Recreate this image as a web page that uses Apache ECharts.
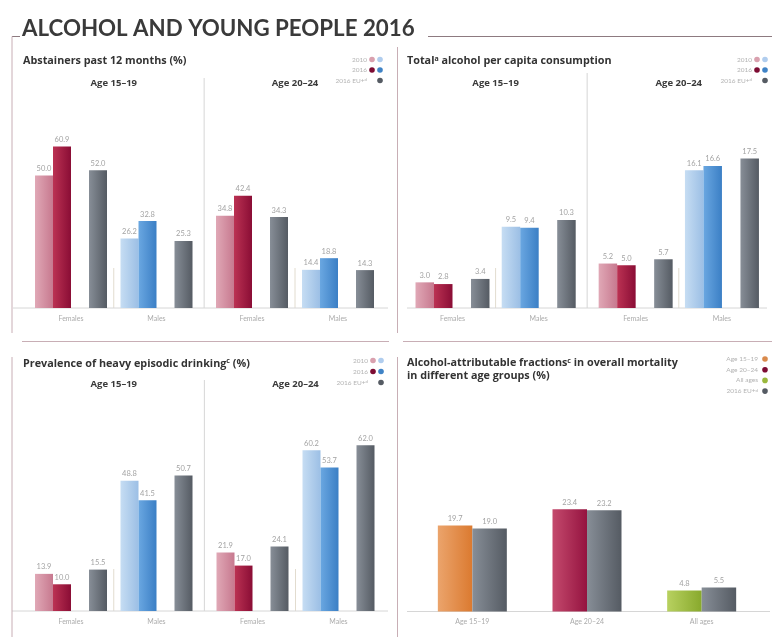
<!DOCTYPE html>
<html><head><meta charset="utf-8">
<script src="https://cdn.jsdelivr.net/npm/echarts@6/dist/echarts.min.js"></script>
<style>html,body{margin:0;padding:0;background:#fff}#c{width:772px;height:637px}</style>
</head><body><div id="c"></div>
<script>
// ---------- DATA ----------
const sexes = ['Females', 'Males'];
const ageGroups = ['Age 15–19', 'Age 20–24'];
// [age group][sex]
const abstainers2010 = [[50.0, 26.2], [34.8, 14.4]];
const abstainers2016 = [[60.9, 32.8], [42.4, 18.8]];
const abstainersEU   = [[52.0, 25.3], [34.3, 14.3]];
const consumption2010 = [[3.0, 9.5], [5.2, 16.1]];
const consumption2016 = [[2.8, 9.4], [5.0, 16.6]];
const consumptionEU   = [[3.4, 10.3], [5.7, 17.5]];
const heavy2010 = [[13.9, 48.8], [21.9, 60.2]];
const heavy2016 = [[10.0, 41.5], [17.0, 53.7]];
const heavyEU   = [[15.5, 50.7], [24.1, 62.0]];
const afCategories = ['Age 15–19', 'Age 20–24', 'All ages'];
const afGroup = [19.7, 23.4, 4.8];
const afEU    = [19.0, 23.2, 5.5];

// ---------- STYLE ----------
const FONT = 'Lato, "Open Sans", sans-serif';
const TFONT = '"Open Sans", Lato, sans-serif';
function grad(a, b) {
  return new echarts.graphic.LinearGradient(0, 0, 1, 0, [{offset: 0, color: a}, {offset: 1, color: b}]);
}
const C = {
  f2010: ['#e0a8b6', '#c7798f'], f2016: ['#bb3253', '#8a0d35'],
  m2010: ['#c6ddf3', '#9cbfe5'], m2016: ['#6aa7e1', '#3b7fc5'],
  eu: ['#878e97', '#555b63'],
  orange: ['#eba46c', '#db7a30'], crimson: ['#c44a6d', '#951340'], green: ['#b8d160', '#88a92c']
};
const DOT = {f2010: '#d9a0ae', m2010: '#b0cdee', f2016: '#7d0c33', m2016: '#3f83c6', eu: '#555b63',
  orange: '#d98a4c', crimson: '#7d0c33', green: '#9ab83c'};
const LINE = '#c8aeb5';
const LIGHT = '#d6d6d6';

// ---------- LAYOUT ----------
const panels = [
  {title: '{t|Abstainers past 12 months (%)}', tx: 23, ty: 61, ageY: 83,
   grids: [{left: 28.25, width: 171}, {left: 209, width: 172}], base: 308, max: 70, top: 122.5, barW: 18,
   d: [abstainers2010, abstainers2016, abstainersEU], baseX: [13, 388], divTop: 78, sepTop: 268,
   leg: {x1: 372, x2: 380, tr: 367, ys: [59.5, 70, 80.5]}},
  {title: '{t|Total}{s|a}{t| alcohol per capita consumption}', tx: 407, ty: 61, ageY: 83,
   grids: [{left: 409.4, width: 172.4}, {left: 592.5, width: 172.6}], base: 308, max: 20, top: 137, barW: 18.5,
   d: [consumption2010, consumption2016, consumptionEU], baseX: [407, 767], divTop: 73, sepTop: 268,
   leg: {x1: 757, x2: 765, tr: 752, ys: [59.5, 70, 80.5]}},
  {title: '{t|Prevalence of heavy episodic drinking}{s|c}{t| (%)}', tx: 23, ty: 363.5, ageY: 384,
   grids: [{left: 28.25, width: 171}, {left: 209.5, width: 172}], base: 611, max: 70, top: 424, barW: 18,
   d: [heavy2010, heavy2016, heavyEU], baseX: [12, 388], divTop: 380, sepTop: 569,
   leg: {x1: 373, x2: 381, tr: 368, ys: [360.5, 371.5, 382.5]}}
];

const grids = [], xAxes = [], yAxes = [], series = [], graphics = [];
const labelCfg = {show: true, position: 'top', distance: 3, fontSize: 7.5, fontFamily: FONT, color: '#a3a3a3',
  formatter: p => (p.value == null ? '' : Number(p.value).toFixed(1))};

function text(x, y, t, opts) {
  graphics.push({type: 'text', x, y, silent: true, style: Object.assign({
    text: t, textVerticalAlign: 'middle', fontFamily: FONT, fill: '#333'}, opts)});
}
function line(x1, y1, x2, y2, color, w) {
  graphics.push({type: 'line', silent: true, shape: {x1, y1, x2, y2}, style: {stroke: color, lineWidth: w || 1}});
}
function dot(x, y, color) {
  graphics.push({type: 'circle', silent: true, shape: {cx: x, cy: y, r: 2.8}, style: {fill: color}});
}
const legRich = {l: {fontSize: 6.5, fontFamily: FONT, fill: '#b3b3b3'}, s: {fontSize: 4.5, fontFamily: FONT, fill: '#b3b3b3', verticalAlign: 'top'}};
const titleRich = {t: {fontSize: 10.8, fontWeight: 'bold', fontFamily: TFONT, fill: '#333'},
  s: {fontSize: 7, fontWeight: 'bold', fontFamily: TFONT, fill: '#333', verticalAlign: 'top', padding: [0, 0, 5, 0]}};

panels.forEach((p, pi) => {
  text(p.tx, p.ty, p.title, {rich: titleRich});
  const [d2010, d2016, dEU] = p.d;
  p.grids.forEach((g, a) => {
    const gi = grids.length;
    grids.push({left: g.left, width: g.width, top: p.top, bottom: 637 - p.base, containLabel: false});
    xAxes.push({type: 'category', gridIndex: gi, data: sexes, axisLine: {show: false}, axisTick: {show: false},
      axisLabel: {fontSize: 7, color: '#ababab', fontFamily: FONT, margin: 7}});
    yAxes.push({type: 'value', gridIndex: gi, min: 0, max: p.max, show: false, splitLine: {show: false}});
    const mk = (arr, keys) => sexes.map((s, i) => ({value: arr[a][i], itemStyle: {color: grad(...C[keys[i]])}}));
    const common = {type: 'bar', xAxisIndex: gi, yAxisIndex: gi, barWidth: p.barW, barGap: '0%', label: labelCfg, silent: true};
    series.push(Object.assign({name: '2010', data: mk(d2010, ['f2010', 'm2010'])}, common));
    series.push(Object.assign({name: '2016', data: mk(d2016, ['f2016', 'm2016'])}, common));
    series.push(Object.assign({name: 'gap', data: sexes.map(() => null)}, common));
    series.push(Object.assign({name: '2016 EU+', data: mk(dEU, ['eu', 'eu'])}, common));
    // age label and female/male separator
    const cx = g.left + g.width / 2;
    text(cx, p.ageY, ageGroups[a], {textAlign: 'center', fontSize: 9.5, fontWeight: 'bold', fontFamily: TFONT, fill: '#3a3a3a'});
    line(cx, p.sepTop, cx, p.base, '#e2dccf');
  });
  // divider between age groups
  const dx = (p.grids[0].left + p.grids[0].width + p.grids[1].left) / 2;
  line(dx, p.divTop, dx, p.base, LIGHT);
  line(p.baseX[0], p.base, p.baseX[1], p.base, LIGHT);
  // legend
  const L = p.leg;
  const rows = [['{l|2010}', 'f2010', 'm2010'], ['{l|2016}', 'f2016', 'm2016'], ['{l|2016 EU+}{s|d}', null, 'eu']];
  rows.forEach((r, k) => {
    text(L.tr, L.ys[k], r[0], {textAlign: 'right', rich: legRich});
    if (r[1]) dot(L.x1, L.ys[k], DOT[r[1]]);
    dot(L.x2, L.ys[k], DOT[r[2]]);
  });
});

// ---------- PANEL 4 ----------
{
  const gi = grids.length;
  grids.push({left: 415, width: 344, top: 480.5, bottom: 25.5});
  xAxes.push({type: 'category', gridIndex: gi, data: afCategories, axisLine: {show: false}, axisTick: {show: false},
    axisLabel: {fontSize: 7, color: '#ababab', fontFamily: FONT, margin: 7}});
  yAxes.push({type: 'value', gridIndex: gi, min: 0, max: 30, show: false, splitLine: {show: false}});
  const keys = ['orange', 'crimson', 'green'];
  const common = {type: 'bar', xAxisIndex: gi, yAxisIndex: gi, barWidth: 34.5, barGap: '0%', label: labelCfg, silent: true};
  series.push(Object.assign({name: 'Age group', data: afGroup.map((v, i) => ({value: v, itemStyle: {color: grad(...C[keys[i]])}}))}, common));
  series.push(Object.assign({name: '2016 EU+', data: afEU.map(v => ({value: v, itemStyle: {color: grad(...C.eu)}}))}, common));
  text(407, 363, '{t|Alcohol-attributable fractions}{s|c}{t| in overall mortality}', {rich: titleRich});
  text(407, 376, '{t|in different age groups (%)}', {rich: titleRich});
  line(407, 611.5, 770, 611.5, LIGHT);
  const rows = [['{l|Age 15–19}', 'orange'], ['{l|Age 20–24}', 'crimson'], ['{l|All ages}', 'green'], ['{l|2016 EU+}{s|d}', 'eu']];
  const ys = [359, 369.7, 380.4, 391.1];
  rows.forEach((r, k) => {
    text(758, ys[k], r[0], {textAlign: 'right', rich: legRich});
    dot(765, ys[k], DOT[r[1]]);
  });
}

// ---------- FRAME & TITLE ----------
text(22, 29, 'ALCOHOL AND YOUNG PEOPLE 2016', {fontSize: 22.3, fontWeight: 'bold', fill: '#3a3a3a'});
line(12, 36.5, 20, 36.5, '#8d7a80');
line(428, 36.5, 772, 36.5, '#8d7a80');
line(12, 36.5, 12, 333, LINE);
line(12, 357, 12, 637, LINE);
line(397.5, 47, 397.5, 333, LINE);
line(397.5, 357, 397.5, 637, LINE);
line(22, 341.5, 389, 341.5, LINE);
line(403, 341.5, 772, 341.5, LINE);

const chart = echarts.init(document.getElementById('c'), null, {renderer: 'canvas'});
chart.setOption({animation: false, backgroundColor: '#fff', grid: grids, xAxis: xAxes, yAxis: yAxes, series, graphic: graphics});
</script>
</body></html>
